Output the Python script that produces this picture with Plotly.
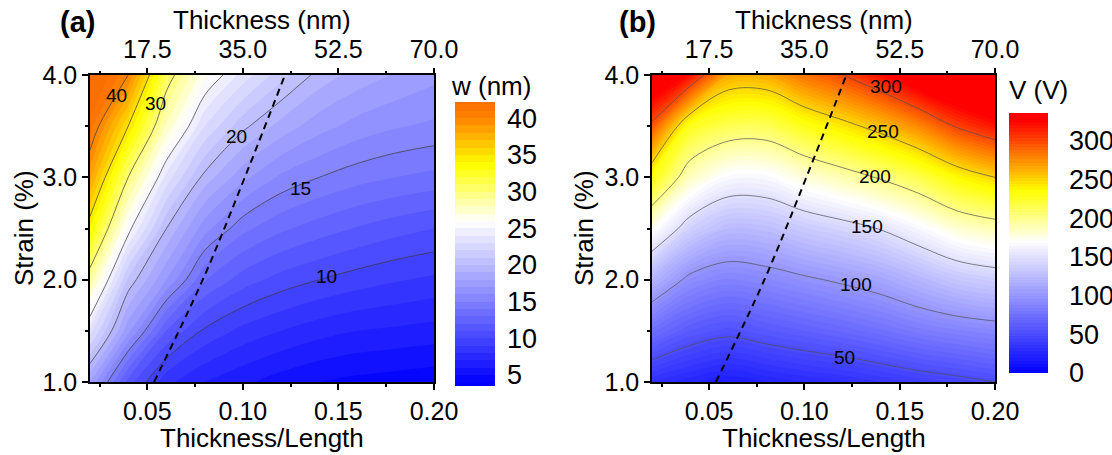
import plotly.graph_objects as go

# ---------------- data ----------------
ratio = [0.02, 0.04, 0.06, 0.08, 0.10, 0.12, 0.14, 0.16, 0.18, 0.20]   # Thickness/Length
strain = [1.0, 1.5, 2.0, 2.5, 3.0, 3.5, 4.0]                            # Strain (%)
NM_PER_RATIO = 350.0   # 70 nm thickness at ratio 0.20 (top axis)

# (a) w (nm), one row per strain value
w_nm = [
    [18.0, 11.5, 8.3, 7.0, 6.2, 5.5, 5.0, 4.7, 4.5, 4.3],
    [23.5, 17.3, 12.0, 9.8, 8.7, 8.0, 7.4, 7.0, 6.8, 6.6],
    [28.8, 20.8, 17.0, 13.1, 11.5, 10.6, 10.0, 9.5, 9.1, 8.8],
    [34.0, 25.5, 20.0, 16.4, 14.3, 13.2, 12.5, 11.9, 11.4, 11.0],
    [38.3, 30.0, 23.6, 19.6, 17.3, 15.8, 15.0, 14.4, 14.0, 13.7],
    [41.5, 35.0, 27.8, 23.0, 20.3, 18.6, 17.4, 16.6, 16.1, 15.8],
    [44.0, 40.0, 31.0, 26.3, 23.6, 21.4, 19.6, 18.6, 17.9, 17.3],
]

# (b) V (V), one row per strain value
v_volts = [
    [32, 25, 20, 24, 28, 31, 36, 41, 45, 50],
    [74, 60, 54, 59, 64, 69, 75, 82, 87, 91],
    [120, 95, 87, 91, 97, 103, 110, 121, 132, 138],
    [174, 139, 124, 126, 135, 142, 151, 165, 181, 189],
    [232, 186, 166, 166, 179, 190, 202, 216, 236, 250],
    [295, 228, 214, 213, 229, 243, 258, 277, 302, 318],
    [350, 320, 265, 265, 285, 300, 320, 345, 360, 370],
]

# contour labels shown in the picture
a_label_vals = [40, 30, 20, 15, 10]
a_label_ratio = [0.034, 0.0545, 0.0967, 0.130, 0.144]
a_label_strain = [3.80, 3.72, 3.40, 2.89, 2.03]
b_label_vals = [300, 250, 200, 150, 100, 50]
b_label_ratio = [0.143, 0.141, 0.137, 0.1327, 0.127, 0.1208]
b_label_strain = [3.885, 3.445, 3.006, 2.517, 1.948, 1.241]

# dashed boundary line
dash_ratio = [0.0535, 0.079, 0.101, 0.122]
dash_strain = [1.0, 2.0, 3.0, 4.0]

# tick labels
ratio_ticks = [0.05, 0.10, 0.15, 0.20]
ratio_ticktext = ["0.05", "0.10", "0.15", "0.20"]
strain_ticks = [1.0, 2.0, 3.0, 4.0]
strain_ticktext = ["1.0", "2.0", "3.0", "4.0"]
thick_ticks = [17.5, 35.0, 52.5, 70.0]
thick_ticktext = ["17.5", "35.0", "52.5", "70.0"]
w_cbar_ticks = [5, 10, 15, 20, 25, 30, 35, 40]
v_cbar_ticks = [0, 50, 100, 150, 200, 250, 300]

# ---------------- styling ----------------
FONT = "Liberation Sans, Arial, sans-serif"
W, H = 1112, 455
TICKF = dict(family=FONT, size=25, color="black")
CBF = dict(family=FONT, size=27, color="black")
LABF = dict(family=FONT, size=19, color="black")
TITLEF = dict(family=FONT, size=26, color="black")

def px(xp):
    return xp / W

def py(yp):
    return 1 - yp / H

cs_a = [
    [0.0, "rgb(0,0,255)"],
    [0.578, "rgb(255,255,255)"],
    [0.78, "rgb(255,255,0)"],
    [0.94, "rgb(255,135,0)"],
    [1.0, "rgb(250,112,0)"],
]
cs_b = [
    [0.0, "rgb(0,0,255)"],
    [0.506, "rgb(255,255,255)"],
    [0.70, "rgb(255,255,0)"],
    [0.967, "rgb(255,0,0)"],
    [1.0, "rgb(255,0,0)"],
]

fig = go.Figure()

# ---- panel (a) ----
fig.add_trace(go.Contour(
    x=ratio, y=strain, z=w_nm, xaxis="x", yaxis="y",
    colorscale=cs_a, zmin=3.5, zmax=42.2, zauto=False,
    autocontour=False,
    contours=dict(start=4, end=43, size=1, coloring="fill"),
    line=dict(width=0, smoothing=1),
    hoverinfo="skip",
    colorbar=dict(
        x=px(455), xanchor="left", xpad=0,
        y=py(102), yanchor="top", ypad=0,
        len=284, lenmode="pixels", thickness=40, thicknessmode="pixels",
        outlinewidth=0, tickvals=w_cbar_ticks, ticks="outside", ticklen=7,
        tickcolor="rgba(0,0,0,0)", tickfont=CBF,
    ),
))
fig.add_trace(go.Contour(
    x=ratio, y=strain, z=w_nm, xaxis="x", yaxis="y",
    showscale=False, autocontour=False,
    contours=dict(start=10, end=40, size=5, coloring="none", showlabels=False),
    line=dict(color="#3a3a3a", width=0.7, smoothing=1),
    hoverinfo="skip",
))
fig.add_trace(go.Scatter(
    x=dash_ratio, y=dash_strain, xaxis="x", yaxis="y", mode="lines",
    line=dict(color="black", width=2, dash="7px,5px", shape="spline"),
    showlegend=False, hoverinfo="skip",
))
# invisible trace carrying the top (thickness) axis
fig.add_trace(go.Scatter(
    x=[r * NM_PER_RATIO for r in ratio], y=[strain[0]] * len(ratio),
    xaxis="x3", yaxis="y", mode="markers", marker=dict(opacity=0),
    showlegend=False, hoverinfo="skip",
))

# ---- panel (b) ----
fig.add_trace(go.Contour(
    x=ratio, y=strain, z=v_volts, xaxis="x2", yaxis="y2",
    colorscale=cs_b, zmin=0, zmax=336, zauto=False,
    autocontour=False,
    contours=dict(start=0, end=380, size=4, coloring="fill"),
    line=dict(width=0, smoothing=1),
    hoverinfo="skip",
    colorbar=dict(
        x=px(1009), xanchor="left", xpad=0,
        y=py(113), yanchor="top", ypad=0,
        len=260, lenmode="pixels", thickness=39, thicknessmode="pixels",
        outlinewidth=0, tickvals=v_cbar_ticks, ticks="outside", ticklen=16,
        tickcolor="rgba(0,0,0,0)", tickfont=CBF,
    ),
))
fig.add_trace(go.Contour(
    x=ratio, y=strain, z=v_volts, xaxis="x2", yaxis="y2",
    showscale=False, autocontour=False,
    contours=dict(start=50, end=300, size=50, coloring="none", showlabels=False),
    line=dict(color="#505050", width=0.7, smoothing=1),
    hoverinfo="skip",
))
fig.add_trace(go.Scatter(
    x=dash_ratio, y=dash_strain, xaxis="x2", yaxis="y2", mode="lines",
    line=dict(color="black", width=2, dash="7px,5px", shape="spline"),
    showlegend=False, hoverinfo="skip",
))
fig.add_trace(go.Scatter(
    x=[r * NM_PER_RATIO for r in ratio], y=[strain[0]] * len(ratio),
    xaxis="x4", yaxis="y2", mode="markers", marker=dict(opacity=0),
    showlegend=False, hoverinfo="skip",
))

# ---------------- axes ----------------
xr = [ratio[0], ratio[-1]]
thick_range = [xr[0] * NM_PER_RATIO, xr[1] * NM_PER_RATIO]

def bottom_axis(dom, anchor):
    return dict(
        domain=dom, range=xr, anchor=anchor,
        tickvals=ratio_ticks, ticktext=ratio_ticktext, tickfont=TICKF,
        ticks="outside", ticklen=6, tickwidth=1.5, tickcolor="black",
        showline=True, linecolor="black", linewidth=1.5, mirror=True,
        showgrid=False, zeroline=False, automargin=False,
        minor=dict(ticks="outside", ticklen=3, tickwidth=1.5, tickcolor="black",
                   tick0=0, dtick=0.025, showgrid=False),
    )

def left_axis(anchor):
    return dict(
        domain=[py(382), py(75)], range=[strain[0], strain[-1]], anchor=anchor,
        tickvals=strain_ticks, ticktext=strain_ticktext, tickfont=TICKF,
        ticks="outside", ticklen=6, tickwidth=1.5, tickcolor="black",
        showline=True, linecolor="black", linewidth=1.5, mirror=True,
        showgrid=False, zeroline=False, automargin=False,
        minor=dict(ticks="outside", ticklen=3, tickwidth=1.5, tickcolor="black",
                   tick0=0, dtick=0.5, showgrid=False),
    )

def top_axis(over, anchor):
    return dict(
        overlaying=over, side="top", anchor=anchor, range=thick_range,
        tickvals=thick_ticks, ticktext=thick_ticktext, tickfont=TICKF,
        ticks="outside", ticklen=6, tickwidth=1.5, tickcolor="black",
        showline=False, showgrid=False, zeroline=False, automargin=False,
        minor=dict(ticks="outside", ticklen=3, tickwidth=1.5, tickcolor="black",
                   tick0=0, dtick=8.75, showgrid=False),
    )

ax_a = [px(90), px(434)]
ax_b = [px(652), px(995)]

annotations = []
for cx, lx, tag in [((90 + 434) / 2, 77, "(a)"), ((652 + 995) / 2, 637, "(b)")]:
    annotations.append(dict(x=px(cx), y=py(438), xref="paper", yref="paper",
                            text="Thickness/Length", showarrow=False, font=TITLEF,
                            xanchor="center", yanchor="middle"))
    annotations.append(dict(x=px(cx), y=py(20), xref="paper", yref="paper",
                            text="Thickness (nm)", showarrow=False, font=TITLEF,
                            xanchor="center", yanchor="middle"))
    annotations.append(dict(x=px(lx), y=py(22), xref="paper", yref="paper",
                            text="<b>" + tag + "</b>", showarrow=False,
                            font=dict(family=FONT, size=29, color="black"),
                            xanchor="center", yanchor="middle"))
for sx in [24, 584]:
    annotations.append(dict(x=px(sx), y=py(228), xref="paper", yref="paper",
                            text="Strain (%)", showarrow=False, font=TITLEF,
                            textangle=-90, xanchor="center", yanchor="middle"))
annotations.append(dict(x=px(449), y=py(86), xref="paper", yref="paper",
                        text="w (nm)", showarrow=False, font=TITLEF,
                        xanchor="left", yanchor="middle"))
annotations.append(dict(x=px(1007), y=py(90), xref="paper", yref="paper",
                        text="V (V)", showarrow=False, font=TITLEF,
                        xanchor="left", yanchor="middle"))
# contour level labels
for vals, xs, ys, xa, ya in [(a_label_vals, a_label_ratio, a_label_strain, "x", "y"),
                             (b_label_vals, b_label_ratio, b_label_strain, "x2", "y2")]:
    for v, xx, yy in zip(vals, xs, ys):
        annotations.append(dict(x=xx, y=yy, xref=xa, yref=ya, text=str(v),
                                showarrow=False, font=LABF,
                                xanchor="center", yanchor="middle"))

fig.update_layout(
    width=W, height=H, autosize=False,
    margin=dict(l=0, r=0, t=0, b=0, pad=0, autoexpand=False),
    paper_bgcolor="white", plot_bgcolor="white",
    showlegend=False,
    font=dict(family=FONT, color="black"),
    xaxis=bottom_axis(ax_a, "y"),
    yaxis=left_axis("x"),
    xaxis3=top_axis("x", "y"),
    xaxis2=bottom_axis(ax_b, "y2"),
    yaxis2=left_axis("x2"),
    xaxis4=top_axis("x2", "y2"),
    annotations=annotations,
)

fig.write_html("out.html")
